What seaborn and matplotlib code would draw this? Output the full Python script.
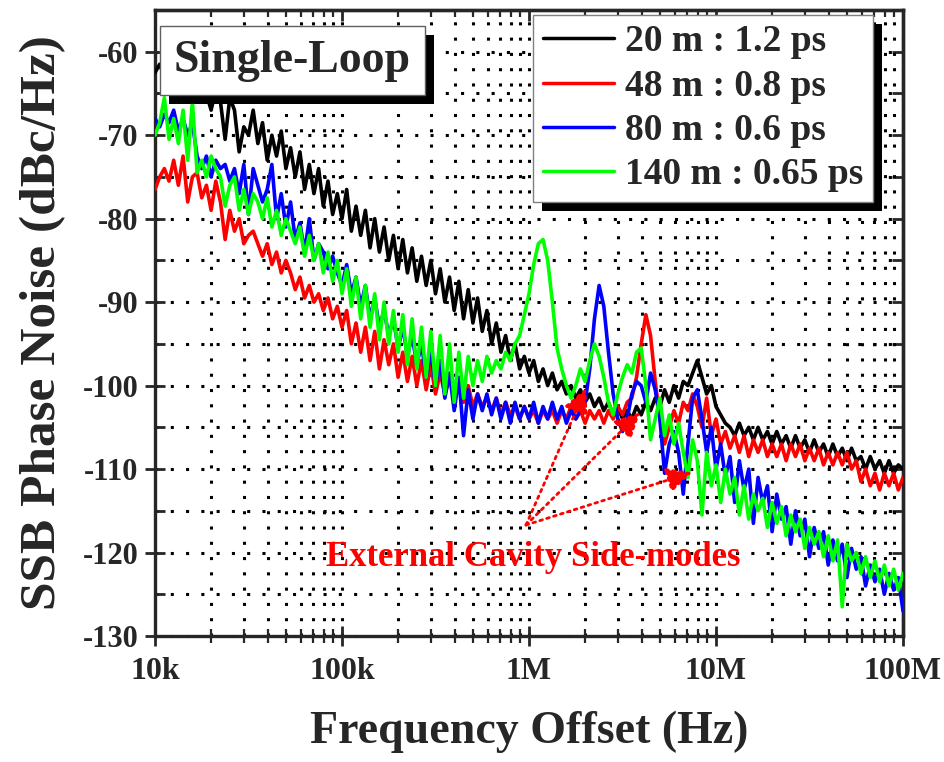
import numpy as np
import pandas as pd
import matplotlib
matplotlib.use("Agg")
import matplotlib.pyplot as plt
from matplotlib.lines import Line2D
from matplotlib.patches import Rectangle
from matplotlib.transforms import IdentityTransform
from matplotlib.font_manager import FontProperties
from matplotlib.ticker import FixedLocator, LogLocator, NullFormatter
import seaborn as sns

# ---------------- data ----------------
# analyser sweep points: 40 per decade, 10 kHz .. 100 MHz
freq_hz = 10 ** (4 + np.arange(161) / 40)

noise_20m = [
    -62.5, -61.5, -63, -62, -64, -63, -65, -64, -66, -64.5,
    -66, -65, -67, -64.5, -66, -70.5, -65.5, -67, -72, -69,
    -70, -67, -71, -68.5, -73, -70, -72.5, -69.5, -74, -71.5,
    -75, -72, -76.5, -73.5, -77, -74, -78.5, -75.5, -79.5, -77,
    -80, -76.5, -81.5, -78.5, -82, -79, -83.5, -80, -84, -81,
    -85, -82, -86, -82.5, -86.5, -83.5, -87.5, -84.5, -88, -85,
    -89, -86, -90, -87, -91, -87.5, -92, -88.5, -92.5, -89.5,
    -93.5, -91, -95, -92.5, -96, -94, -97, -95, -98, -96.5,
    -98.5, -97, -99.5, -98, -100, -98.5, -100.5, -99.5, -101, -100,
    -101.5, -100.5, -102, -101, -102.5, -101.5, -103, -102, -103.5, -102.5,
    -104, -103, -104, -102.5, -103.5, -102, -103, -101.5, -102.5, -100.5,
    -102, -100, -101.5, -99.5, -100, -98.5, -97, -99, -101, -100,
    -102.5, -103.5, -104.5, -105, -106, -104.5, -106, -105, -106.5, -105,
    -106.5, -105.5, -107, -105.5, -107, -106, -107.5, -106, -107.5, -106.5,
    -108, -106.5, -108, -107, -108.5, -107, -108.5, -107.5, -109, -107.5,
    -109, -108.5, -110, -108.5, -110, -109, -110.5, -109, -110.5, -109.5,
    -110,
]

noise_48m = [
    -76.5, -75, -74, -75.5, -73, -76, -72.5, -78, -75, -74.5,
    -77.5, -76, -79, -75.5, -78, -82.5, -79, -81.5, -80, -83,
    -82, -81.5, -83, -84.5, -83, -85.5, -84, -86.5, -85, -86.5,
    -88.5, -87, -89.5, -88, -90, -89, -91, -89.5, -92, -90.5,
    -93, -91, -95, -92.5, -96, -93, -97, -93.5, -98, -94.5,
    -97.5, -95, -99, -96, -99.5, -96.5, -100, -97, -100.5, -97.5,
    -101, -98.5, -101, -99, -101.5, -100, -102, -100, -102.5, -101,
    -102.5, -101.5, -103, -101.5, -103.5, -102, -103.5, -102.5, -104, -102.5,
    -104, -103, -104.5, -103, -104, -103, -104.5, -103, -104, -102.5,
    -104, -103, -104.5, -103, -104, -103, -104.5, -103, -104, -102.5,
    -103.5, -102, -101.5, -99, -95, -91.5, -94, -99.5, -104, -107,
    -105, -103, -104.5, -102, -103, -101, -102.5, -105, -101.5, -106,
    -104, -107, -105.5, -107.5, -106, -108, -106, -108.5, -106.5, -108,
    -106.5, -108.5, -107, -108.5, -107, -109, -107, -108.5, -107, -109,
    -107.5, -109, -107.5, -109.5, -108, -109.5, -108, -109.5, -108, -110,
    -109, -111.5, -110, -112, -110.5, -112.5, -110.5, -112, -110.5, -112.5,
    -111,
]

noise_80m = [
    -68, -69, -67.5, -68.5, -67, -69.5, -68, -70, -68.5, -72.5,
    -74, -72.5, -75, -73, -74, -73.5, -75.5, -74, -77, -73.5,
    -79.5, -74, -76, -78, -76.5, -73.5, -80, -77, -81, -78,
    -82.5, -80.5, -84, -80, -85, -83, -84, -86, -84.5, -86.5,
    -88, -85.5, -89, -87, -90.5, -88, -92, -89.5, -93, -91,
    -94, -92, -95.5, -93, -96.5, -94, -97.5, -95, -99, -96,
    -100, -97, -101.5, -98.5, -103, -99, -106, -100.5, -104, -101,
    -103, -101, -103.5, -101.5, -104, -102, -104.5, -102, -104, -102.5,
    -104, -102, -104.5, -102.5, -104, -102, -104, -102.5, -104.5, -103,
    -104, -103, -102, -98, -92, -88, -90.5, -96, -101, -104,
    -105.5, -104, -101, -99.5, -100, -102, -98.5, -100.5, -104, -110.5,
    -107, -105.5, -108, -113, -107, -101.5, -100.5, -104, -108, -105,
    -110, -107, -111, -108.5, -114, -109, -112.5, -110, -116.5, -111,
    -114, -112, -117.5, -113, -116, -114.5, -119, -115, -118, -116,
    -120.5, -117, -119.5, -117.5, -121.5, -118.5, -121, -119, -123, -119.5,
    -122, -120.5, -124, -121.5, -123.5, -122, -125, -122.5, -124.5, -123,
    -127,
]

noise_140m = [
    -70, -68.5, -65.5, -70.5, -68, -71, -67, -73, -66, -74.5,
    -73, -75, -72.5, -74, -75, -78.5, -76, -75, -79, -76.5,
    -79.5, -77, -78, -80, -77.5, -81, -79, -82, -80, -81.5,
    -83, -81, -84.5, -82, -85, -83, -86.5, -84, -87.5, -85,
    -89, -86, -90.5, -87, -92, -88, -93, -89, -94.5, -90,
    -95, -91, -96, -91.5, -97.5, -92, -98, -93, -99, -93.5,
    -100, -94, -101, -95, -102, -96, -101.5, -96.5, -100, -97,
    -99.5, -96.5, -98.5, -97, -98, -96, -97, -95, -94, -91.5,
    -89, -85.5, -83, -82.5, -85, -90, -95.5, -98, -100, -101.5,
    -100, -98, -99.5, -97, -95, -96.5, -99, -102, -103.5, -101,
    -99, -97.5, -98.5, -96, -95.5, -100, -106.5, -104, -101.5, -106,
    -103.5, -107, -104.5, -108, -111, -106.5, -109, -115.5, -108, -112,
    -109.5, -114, -110, -113, -111, -115.5, -112, -116, -113, -115,
    -113.5, -117, -114, -116.5, -114.5, -118, -115.5, -117.5, -116, -119.5,
    -117, -119, -117.5, -120.5, -118, -121, -118.5, -126.5, -119, -121,
    -120, -122.5, -120.5, -123, -121, -123.5, -121.5, -124, -122, -124.5,
    -122.5,
]

series_labels = ["20 m : 1.2 ps", "48 m : 0.8 ps", "80 m : 0.6 ps", "140 m : 0.65 ps"]
series_values = [noise_20m, noise_48m, noise_80m, noise_140m]
series_colors = ["#000000", "#ff0000", "#0000ff", "#00ff00"]

x_tick_values = [1e4, 1e5, 1e6, 1e7, 1e8]
x_tick_labels = ["10k", "100k", "1M", "10M", "100M"]
y_tick_values = [-130, -120, -110, -100, -90, -80, -70, -60]
y_tick_labels = ["-130", "-120", "-110", "-100", "-90", "-80", "-70", "-60"]
y_minor_values = [-125, -115, -105, -95, -85, -75, -65]

annotation_text = "External Cavity Side-modes"
annotation_text_pos = (1.05e6, -120.6)
arrow_tail = (0.964e6, -116.7)
arrow_heads = [(2.02e6, -100.3), (3.93e6, -103.2), (7.45e6, -110.4)]

box_text = "Single-Loop"

# ---------------- style ----------------
sns.set_style("ticks")
plt.rcParams["font.family"] = ["Liberation Serif", "DejaVu Serif"]
plt.rcParams["font.weight"] = "bold"
plt.rcParams["axes.unicode_minus"] = False

W, H = 945, 762
fig = plt.figure(figsize=(W / 100, H / 100), dpi=100)
ax = fig.add_axes([155 / W, 1 - 636 / H, 748 / W, 626 / H])
ax.set_xscale("log")

frames = []
for lab, vals in zip(series_labels, series_values):
    assert len(vals) == len(freq_hz), lab
    frames.append(pd.DataFrame({"freq": freq_hz, "noise": vals, "series": lab}))
df = pd.concat(frames, ignore_index=True)

sns.lineplot(data=df, x="freq", y="noise", hue="series", hue_order=series_labels,
             palette=dict(zip(series_labels, series_colors)), estimator=None,
             sort=False, linewidth=2.6, legend=False, ax=ax, zorder=3)

ax.set_xlim(1e4, 1e8)
ax.set_ylim(-130, -55)

ax.xaxis.set_major_locator(FixedLocator(x_tick_values))
ax.set_xticklabels(x_tick_labels)
ax.xaxis.set_minor_locator(LogLocator(base=10, subs=np.arange(2, 10), numticks=20))
ax.xaxis.set_minor_formatter(NullFormatter())
ax.yaxis.set_major_locator(FixedLocator(y_tick_values))
ax.set_yticklabels(y_tick_labels)
ax.yaxis.set_minor_locator(FixedLocator(y_minor_values))

ax.tick_params(axis="x", which="major", direction="inout", length=14, width=2,
               labelsize=23, pad=8)
ax.tick_params(axis="x", which="minor", direction="inout", length=10, width=1.6)
ax.tick_params(axis="y", which="major", direction="inout", length=14, width=2,
               labelsize=22, pad=5)
ax.tick_params(axis="y", which="minor", direction="in", length=7, width=2)
for lbl in ax.get_xticklabels() + ax.get_yticklabels():
    lbl.set_fontweight("bold")

# inward ticks on top / right
secx = ax.secondary_xaxis("top")
secx.xaxis.set_major_locator(FixedLocator(x_tick_values))
secx.xaxis.set_minor_locator(LogLocator(base=10, subs=np.arange(2, 10), numticks=20))
secx.xaxis.set_minor_formatter(NullFormatter())
secx.tick_params(which="major", direction="in", length=8, width=2, labeltop=False)
secx.tick_params(which="minor", direction="in", length=5, width=1.6)
secy = ax.secondary_yaxis("right")
secy.yaxis.set_major_locator(FixedLocator(y_tick_values))
secy.yaxis.set_minor_locator(FixedLocator(y_minor_values))
secy.tick_params(which="both", direction="in", length=8, width=2, labelright=False)
for s in list(ax.spines.values()) + list(secx.spines.values()) + list(secy.spines.values()):
    s.set_linewidth(2.4)

grid_style = dict(color="black", linestyle=(0, (1, 4.0)), linewidth=2.2)
ax.grid(True, which="both", axis="both", **grid_style)
ax.set_axisbelow(True)

ax.set_xlabel("Frequency Offset (Hz)", fontsize=33, fontweight="bold", labelpad=18)
ax.set_ylabel("SSB Phase Noise (dBc/Hz)", fontsize=37, fontweight="bold", labelpad=12)

# legend
handles = [Line2D([], [], color=c, lw=2.5) for c in series_colors]
leg = ax.legend(handles, series_labels, loc="upper right",
                bbox_to_anchor=((873 - 155) / 748, (636 - 15) / 626),
                borderaxespad=0, prop=FontProperties(family="Liberation Serif",
                                                     weight="bold", size=27),
                frameon=True, fancybox=False, edgecolor="#808080", framealpha=1,
                handlelength=1.9, handletextpad=0.3, labelspacing=0.25, borderpad=0.25)
leg.get_frame().set_linewidth(1.0)
leg.set_zorder(10)

# boxed title
title_txt = ax.text((292.5 - 155) / 748, (636 - 60.5) / 626, box_text,
                    transform=ax.transAxes, ha="center", va="center",
                    fontsize=33, fontweight="bold", zorder=10,
                    bbox=dict(boxstyle="square,pad=0.3", fc="white", ec="#606060", lw=1.0))

# annotation
for head in arrow_heads:
    ax.annotate("", xy=head, xytext=arrow_tail, zorder=8,
                arrowprops=dict(arrowstyle="-|>,head_length=0.7,head_width=0.35",
                                color="red", lw=2, linestyle=(0, (1, 1.6)),
                                mutation_scale=22, shrinkA=0, shrinkB=0))
ax.text(*annotation_text_pos, annotation_text, color="red", fontsize=25,
        fontweight="bold", ha="center", va="center", zorder=9)

# drop shadows for legend and title box
fig.canvas.draw()
off = 9
for bb, z in [(leg.get_frame().get_window_extent(), 9.5),
              (title_txt.get_bbox_patch().get_window_extent(), 9.5)]:
    shadow = Rectangle((bb.x0 + off, bb.y0 - off), bb.width, bb.height,
                       transform=IdentityTransform(), facecolor="black",
                       edgecolor="none", zorder=z, clip_on=False)
    ax.add_patch(shadow)

fig.savefig("out.png", dpi=100)
